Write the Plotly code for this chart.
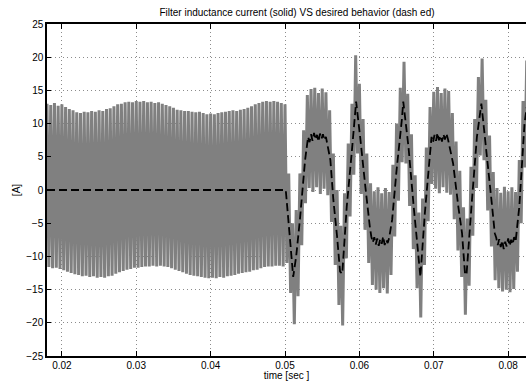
import numpy as np
import plotly.graph_objects as go

# ---------------- data ----------------
# switching-period grid for the measured (solid) current: one peak + one valley per 0.5 ms
t_start = 0.018
t_step = 0.0005
n_sw = 130

# peaks of the measured inductor current [A]
i_peak = [
    13.0, 12.8, 13.1, 12.7, 12.9, 12.5, 12.2, 12.0, 11.7, 11.6,
    11.8, 11.7, 11.9, 11.8, 12.0, 11.9, 12.2, 12.3, 12.6, 12.9,
    13.0, 13.2, 13.3, 13.2, 13.4, 13.3, 13.4, 13.2, 13.3, 13.1,
    13.2, 13.0, 12.8, 12.6, 12.4, 12.1, 12.0, 11.9, 11.9, 11.8,
    11.7, 11.8, 11.6, 11.4, 11.5, 11.4, 11.6, 11.7, 11.8, 11.9,
    12.0, 11.9, 12.1, 12.2, 12.4, 12.6, 12.9, 13.1, 13.3, 13.4,
    13.3, 13.4, 13.3, 13.1, 12.9,
    2.5, -5.0, -3.0, 2.5, 9.0, 14.3, 15.2, 15.4, 14.6, 15.3,
    14.7, 12.0, 5.5, 0.0, -5.4, -0.5, 7.0, 13.0, 20.3, 16.0,
    10.7, 5.5, 1.0, -0.2, 0.4, -0.5, 0.3, -0.3, 3.8, 10.0,
    15.4, 19.3, 14.5, 8.4, 2.2, -3.4, -1.3, 6.4, 12.5, 14.8,
    15.5, 14.6, 15.3, 14.9, 11.6, 7.3, 2.9, -2.6, -4.3, 3.5,
    10.7, 17.0, 19.8, 13.6, 8.2, 2.7, 0.3, -0.4, 0.5, -0.2,
    0.4, -0.3, 4.5, 13.4, 19.5,
]

# valleys of the measured inductor current [A]
i_valley = [
    -11.6, -11.8, -11.7, -11.9, -12.1, -12.3, -12.5, -12.7, -12.8, -13.0,
    -12.9, -13.1, -13.0, -13.2, -13.1, -13.2, -13.0, -12.9, -12.6, -12.4,
    -12.2, -12.0, -11.9, -11.7, -11.7, -11.6, -11.5, -11.5, -11.4, -11.5,
    -11.4, -11.5, -11.6, -11.8, -12.0, -12.2, -12.4, -12.6, -12.8, -12.9,
    -13.0, -13.1, -13.2, -13.3, -13.2, -13.3, -13.1, -13.2, -13.0, -12.9,
    -12.8, -12.6, -12.5, -12.4, -12.3, -12.1, -12.0, -11.8, -11.6, -11.5,
    -11.5, -11.4, -11.4, -11.5, -11.0,
    -15.5, -20.2, -16.0, -8.3, -2.0, 0.3, -0.3, 0.4, -0.6, 0.2,
    -0.8, -4.8, -11.3, -17.3, -20.4, -10.3, -4.0, 2.3, 5.5, -0.6,
    -6.0, -11.0, -14.3, -15.0, -15.5, -14.8, -15.6, -12.8, -7.0, -1.6,
    4.2, 4.0, -2.4, -8.9, -14.8, -19.2, -11.3, -4.7, 0.9, 0.2,
    -0.5, 0.4, -0.4, -0.7, -4.4, -9.1, -13.1, -18.8, -14.4, -6.9,
    0.3, 5.2, 4.5, -3.1, -8.5, -13.6, -14.8, -15.3, -15.0, -15.4,
    -14.9, -12.3, -5.0, 3.4, 6.0,
]

# desired behaviour (dashed)
t_ref = [
    0.0180, 0.0501, 0.0506, 0.0511, 0.0515, 0.0520, 0.0527, 0.0531, 0.0533, 0.0535,
    0.0537, 0.0539, 0.0541, 0.0543, 0.0545, 0.0547, 0.0549, 0.0551, 0.0553, 0.0555,
    0.0561, 0.0565, 0.0570, 0.0574, 0.0577, 0.0583, 0.0590, 0.05956, 0.0601, 0.0608,
    0.0614, 0.0616, 0.0618, 0.0620, 0.0622, 0.0624, 0.0626, 0.0628, 0.0630, 0.0632,
    0.0634, 0.0636, 0.0638, 0.0640, 0.0644, 0.0650, 0.0657, 0.0659, 0.0666, 0.0673,
    0.0679, 0.0682, 0.0688, 0.0695, 0.0697, 0.0699, 0.0701, 0.0703, 0.0705, 0.0707,
    0.0709, 0.0711, 0.0713, 0.0715, 0.0717, 0.0719, 0.0726, 0.0733, 0.0738, 0.0742,
    0.0744, 0.0751, 0.0758, 0.0764, 0.0771, 0.0778, 0.0782, 0.0784, 0.0786, 0.0788,
    0.0790, 0.0792, 0.0794, 0.0796, 0.0798, 0.0800, 0.0802, 0.0804, 0.0806, 0.0808,
    0.0810, 0.0815, 0.0822, 0.0825,
]
i_ref = [
    0.0, 0.0, -6.5, -13.1, -10.0, -4.5, 4.5, 8.0, 7.2, 8.4,
    7.4, 8.6, 7.6, 8.3, 7.3, 8.5, 7.7, 8.4, 7.5, 8.0,
    4.5, -1.5, -7.0, -12.3, -12.6, -2.5, 6.0, 13.3, 8.0, 0.5,
    -5.5, -7.0, -7.9, -7.1, -8.2, -7.3, -8.4, -7.4, -8.1, -7.0,
    -8.3, -7.5, -8.0, -7.2, -4.5, 3.0, 10.5, 13.3, 6.5, -2.5,
    -9.5, -13.1, -3.5, 5.5, 8.0, 7.2, 8.3, 7.4, 8.6, 7.5,
    8.2, 7.3, 8.4, 7.6, 8.5, 7.7, 4.0, -2.5, -6.5, -12.6,
    -12.8, -2.0, 8.0, 13.0, 5.5, -2.0, -6.5, -7.2, -8.3, -7.4,
    -8.6, -7.6, -8.9, -7.8, -8.5, -7.3, -8.4, -7.5, -8.2, -7.1,
    -7.8, -2.5, 10.0, 12.5,
]

x_ticks = [0.02, 0.03, 0.04, 0.05, 0.06, 0.07, 0.08]
x_tick_labels = ["0.02", "0.03", "0.04", "0.05", "0.06", "0.07", "0.08"]
y_ticks = [25, 20, 15, 10, 5, 0, -5, -10, -15, -20, -25]

# ---------------- build solid trace ----------------
t_pk = t_start + t_step * np.arange(n_sw)
t_va = t_pk + t_step / 2
xs = np.empty(2 * n_sw)
ys = np.empty(2 * n_sw)
xs[0::2] = t_pk
xs[1::2] = t_va
ys[0::2] = np.array(i_peak)
ys[1::2] = np.array(i_valley)

FONT = "Liberation Sans, Arial, Helvetica, sans-serif"

fig = go.Figure()
fig.add_trace(go.Scatter(x=xs, y=ys, mode="lines",
                         line=dict(color="rgb(128,128,128)", width=3.0, simplify=False),
                         hoverinfo="skip", showlegend=False))
fig.add_trace(go.Scatter(x=t_ref, y=i_ref, mode="lines",
                         line=dict(color="black", width=1.8, dash="8px,4px", simplify=False),
                         hoverinfo="skip", showlegend=False))

fig.update_layout(
    width=526, height=381,
    margin=dict(l=47, r=0, t=24, b=25),
    paper_bgcolor="white", plot_bgcolor="white",
    font=dict(family=FONT, size=10, color="black"),
    title=dict(text="Filter inductance current (solid) VS desired behavior (dash ed)",
               x=297 / 526, xref="container", xanchor="center",
               y=1 - 12 / 381, yref="container", yanchor="middle",
               font=dict(family=FONT, size=10, color="black")),
    showlegend=False,
)
fig.update_xaxes(
    range=[0.018, 0.0824], tickvals=x_ticks, ticktext=x_tick_labels,
    ticks="inside", ticklen=5, tickwidth=1, tickcolor="black",
    showline=True, linecolor="black", linewidth=1.5, mirror="ticks",
    showgrid=True, gridcolor="#8c8c8c", griddash="1px,3px", gridwidth=1,
    zeroline=False, tickfont=dict(family=FONT, size=10),
    ticklabelstandoff=-1,
    title=dict(text="time [sec ]", standoff=0, font=dict(family=FONT, size=10)),
    automargin=False,
)
fig.update_yaxes(
    range=[-25, 25], tickvals=y_ticks,
    ticks="inside", ticklen=4, tickwidth=1, tickcolor="black",
    showline=True, linecolor="black", linewidth=1.5, mirror=False,
    showgrid=True, gridcolor="#8c8c8c", griddash="1px,3px", gridwidth=1,
    zeroline=False, tickfont=dict(family=FONT, size=10),
    title=dict(text="[A]", standoff=4, font=dict(family=FONT, size=10)),
    automargin=False,
)

fig.write_html(
    "out.html",
    config={"displayModeBar": False},
    post_script="document.body.style.margin='0';document.body.style.padding='0';"
                "document.documentElement.style.overflow='hidden';",
)
